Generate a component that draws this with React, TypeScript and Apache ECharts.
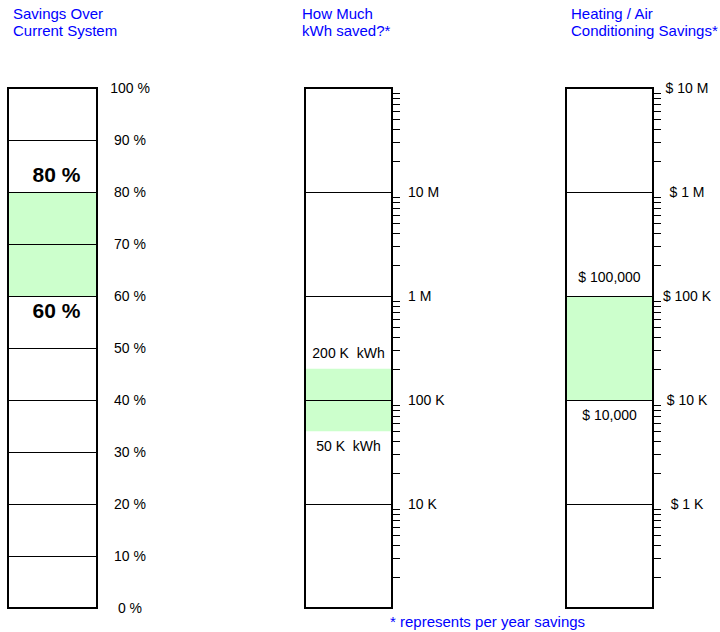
import React, { useEffect, useRef } from 'react';
import * as echarts from 'echarts';

// ---- Panel 1: savings percentage (linear) ----
const pctMin = 0;
const pctMax = 100;
const pctStep = 10;
const pctBand = [60, 80];
const pctBandLabels = ['60 %', '80 %'];

// ---- Panel 2: kWh saved (log) ----
const kwhMin = 1e3;
const kwhMax = 1e8;
const kwhTickValues = [1e4, 1e5, 1e6, 1e7];
const kwhTickLabels = ['10 K', '100 K', '1 M', '10 M'];
const kwhBand = [5e4, 2e5];
const kwhBandLabels = ['50 K  kWh', '200 K  kWh'];
const kwhDecades = [1e3, 1e4, 1e5, 1e6, 1e7];

// ---- Panel 3: heating / AC savings in $ (log) ----
const costMin = 1e2;
const costMax = 1e7;
const costTickValues = [1e3, 1e4, 1e5, 1e6, 1e7];
const costTickLabels = ['$ 1 K', '$ 10 K', '$ 100 K', '$ 1 M', '$ 10 M'];
const costBand = [1e4, 1e5];
const costBandLabels = ['$ 10,000', '$ 100,000'];
const costDecades = [1e2, 1e3, 1e4, 1e5, 1e6];

const minorMultipliers = [2, 3, 4, 5, 6, 7, 8, 9];

const titles = ['Savings Over\nCurrent System', 'How Much\nkWh saved?*', 'Heating / Air\nConditioning Savings*'];
const footnote = '* represents per year savings';

const FONT = '"Liberation Sans", Arial, Helvetica, sans-serif';
const BLUE = '#0000ff';
const GREEN = '#ccffcc';

function logLabel(values: number[], labels: string[]) {
  return (v: number) => {
    const i = values.findIndex((t) => Math.abs(Math.log10(v) - Math.log10(t)) < 1e-6);
    return i >= 0 ? labels[i] : '';
  };
}

function minorTicks(decades: number[]) {
  const out: number[][] = [];
  decades.forEach((d) => minorMultipliers.forEach((m) => out.push([1, d * m])));
  return out;
}

export default function App() {
  const ref = useRef<HTMLDivElement>(null);

  useEffect(() => {
    if (!ref.current) return;
    const chart = echarts.init(ref.current, undefined, { renderer: 'svg' });

    const grids = [
      { left: 8, width: 89 },
      { left: 305, width: 87 },
      { left: 566, width: 87 },
    ].map((g) => ({
      ...g,
      top: 88,
      height: 520,
      show: true,
      z: 5,
      backgroundColor: 'transparent',
      borderColor: '#000',
      borderWidth: 2,
      containLabel: false,
      outerBoundsMode: 'none',
    }));

    const xAxes = [0, 1, 2].map((i) => ({
      type: 'value',
      gridIndex: i,
      min: 0,
      max: 1,
      show: false,
    }));

    const labelStyle = { color: '#000', fontFamily: FONT, fontSize: 14 };

    const yAxes: any[] = [
      {
        type: 'value',
        gridIndex: 0,
        position: 'right',
        min: pctMin,
        max: pctMax,
        interval: pctStep,
        z: 4,
        axisLine: { show: true, lineStyle: { color: '#000', width: 2 } },
        axisTick: { show: false },
        splitLine: { show: true, lineStyle: { color: '#000', width: 1 } },
        axisLabel: { ...labelStyle, formatter: '{value} %', align: 'center', margin: 33 },
      },
      {
        type: 'log',
        logBase: 10,
        gridIndex: 1,
        position: 'right',
        min: kwhMin,
        max: kwhMax,
        z: 4,
        axisLine: { show: true, lineStyle: { color: '#000', width: 2 } },
        axisTick: { show: true, inside: false, length: 8, lineStyle: { color: '#000', width: 1 } },
        splitLine: { show: true, lineStyle: { color: '#000', width: 1 } },
        axisLabel: {
          ...labelStyle,
          formatter: logLabel(kwhTickValues, kwhTickLabels),
          align: 'left',
          margin: 16,
          showMinLabel: true,
          showMaxLabel: true,
        },
      },
      {
        type: 'log',
        logBase: 10,
        gridIndex: 2,
        position: 'right',
        min: costMin,
        max: costMax,
        z: 4,
        axisLine: { show: true, lineStyle: { color: '#000', width: 2 } },
        axisTick: { show: true, inside: false, length: 8, lineStyle: { color: '#000', width: 1 } },
        splitLine: { show: true, lineStyle: { color: '#000', width: 1 } },
        axisLabel: {
          ...labelStyle,
          formatter: logLabel(costTickValues, costTickLabels),
          align: 'center',
          margin: 34,
          showMinLabel: true,
          showMaxLabel: true,
        },
      },
    ];

    const bands = [pctBand, kwhBand, costBand];
    const bandLabels = [pctBandLabels, kwhBandLabels, costBandLabels];
    const bandFonts = [
      { fontSize: 21, fontWeight: 'bold' },
      { fontSize: 14, fontWeight: 'normal' },
      { fontSize: 14, fontWeight: 'normal' },
    ];
    const labelOffsets = [
      { low: [4, 14], high: [4, -18] },
      { low: [0, 15], high: [0, -16] },
      { low: [0, 15], high: [0, -19] },
    ];

    const series: any[] = [];
    [0, 1, 2].forEach((i) => {
      const [lo, hi] = bands[i];
      const lbl = {
        show: true,
        position: 'inside',
        color: '#000',
        opacity: 1,
        textBorderWidth: 0,
        fontFamily: FONT,
        ...bandFonts[i],
      };
      series.push({
        type: 'scatter',
        xAxisIndex: i,
        yAxisIndex: i,
        symbolSize: 0,
        silent: true,
        z: 2,
        itemStyle: { color: '#000' },
        data: [
          {
            value: [0.5, lo],
            label: { ...lbl, formatter: bandLabels[i][0], offset: labelOffsets[i].low },
          },
          {
            value: [0.5, hi],
            label: { ...lbl, formatter: bandLabels[i][1], offset: labelOffsets[i].high },
          },
        ],
        label: lbl,
        markArea: {
          silent: true,
          itemStyle: { color: GREEN, opacity: 1 },
          data: [[{ yAxis: lo }, { yAxis: hi }]],
        },
      });
    });

    [
      { idx: 1, decades: kwhDecades },
      { idx: 2, decades: costDecades },
    ].forEach(({ idx, decades }) => {
      series.push({
        type: 'custom',
        xAxisIndex: idx,
        yAxisIndex: idx,
        silent: true,
        clip: false,
        z: 6,
        data: minorTicks(decades),
        renderItem: (params: any, api: any) => {
          const p = api.coord([api.value(0), api.value(1)]);
          const y = Math.round(p[1]) + 0.5;
          return {
            type: 'line',
            shape: { x1: p[0], y1: y, x2: p[0] + 8, y2: y },
            style: { stroke: '#000', lineWidth: 1 },
          };
        },
      });
    });

    const titleStyle = { color: BLUE, fontFamily: FONT, fontSize: 15, fontWeight: 'normal', lineHeight: 17 };

    chart.setOption({
      animation: false,
      title: [
        { text: titles[0], left: 13, top: 5, textStyle: titleStyle, padding: 0 },
        { text: titles[1], left: 302, top: 5, textStyle: titleStyle, padding: 0 },
        { text: titles[2], left: 571, top: 5, textStyle: titleStyle, padding: 0 },
        { text: footnote, left: 390, top: 613, textStyle: titleStyle, padding: 0 },
      ],
      grid: grids,
      xAxis: xAxes,
      yAxis: yAxes,
      series,
    });

    return () => chart.dispose();
  }, []);

  return (
    <div
      ref={ref}
      style={{ position: 'fixed', left: 0, top: 0, width: 720, height: 632, background: '#fff' }}
    />
  );
}
